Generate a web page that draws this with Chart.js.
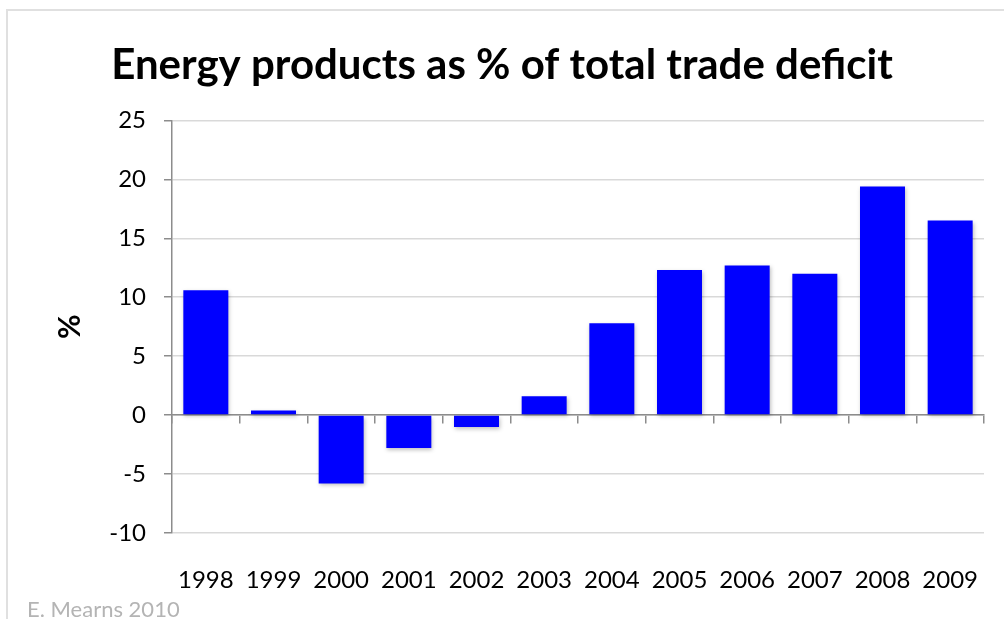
<!DOCTYPE html>
<html>
<head>
<meta charset="utf-8">
<script src="https://cdn.jsdelivr.net/npm/chart.js@4.4.0/dist/chart.umd.min.js"></script>
<style>
  html, body { margin: 0; padding: 0; background: #fff; }
  #wrap { position: relative; width: 1004px; height: 619px; overflow: hidden; }
  #frame { position: absolute; left: 6px; top: 9px; width: 1100px; height: 700px; border-left: 2px solid #e0e0e0; border-top: 2px solid #e0e0e0; }
  canvas { position: absolute; left: 0; top: 0; }
  #credit { position: absolute; left: 27px; top: 595px; font-family: Lato, "Open Sans", sans-serif; font-size: 22px; color: #b4b4b4; white-space: nowrap; }
</style>
</head>
<body>
<div id="wrap">
  <div id="frame"></div>
  <canvas id="c" width="1004" height="619"></canvas>
  <div id="credit">E. Mearns 2010</div>
</div>
<script>
const categories = ["1998","1999","2000","2001","2002","2003","2004","2005","2006","2007","2008","2009"];
const energyShare = [10.6, 0.4, -5.8, -2.8, -1.0, 1.6, 7.8, 12.3, 12.7, 12.0, 19.4, 16.5];
const yTicks = [-10, -5, 0, 5, 10, 15, 20, 25];
const chartTitle = "Energy products as % of total trade deficit";
const yTitle = "%";

const FONT = "Lato, 'Open Sans', sans-serif";

const shadowPlugin = {
  id: 'barShadow',
  beforeDatasetsDraw(chart) {
    const ctx = chart.ctx;
    ctx.save();
    ctx.shadowColor = 'rgba(0,0,0,0.25)';
    ctx.shadowBlur = 4;
    ctx.shadowOffsetX = 1;
    ctx.shadowOffsetY = 2;
  },
  afterDatasetsDraw(chart) {
    chart.ctx.restore();
  }
};

new Chart(document.getElementById('c'), {
  type: 'bar',
  data: {
    labels: categories,
    datasets: [{
      data: energyShare,
      backgroundColor: '#0000ff',
      borderWidth: 0,
      barPercentage: 0.665,
      categoryPercentage: 1.0,
      xAxisID: 'x'
    }]
  },
  options: {
    responsive: false,
    animation: false,
    devicePixelRatio: 1,
    layout: { padding: { left: 0, right: 0, top: 0, bottom: 0 } },
    plugins: {
      legend: { display: false },
      tooltip: { enabled: false },
      title: {
        display: true,
        text: chartTitle,
        color: '#000',
        font: { family: FONT, size: 42, weight: 'bold' },
        padding: { top: 40, bottom: 30 }
      }
    },
    scales: {
      x: {
        type: 'category',
        position: { y: 0 },
        offset: true,
        grid: { display: true, drawOnChartArea: false, drawTicks: true, tickLength: 8, color: '#8c8c8c', lineWidth: 1.5, offset: true },
        border: { display: true, color: '#8c8c8c', width: 1.5 },
        ticks: { display: false },
        afterFit(scale) { scale.paddingLeft = 0; scale.paddingRight = 20; }
      },
      xLabels: {
        type: 'category',
        position: 'bottom',
        labels: categories,
        offset: true,
        grid: { display: false, drawTicks: false },
        border: { display: false },
        ticks: { color: '#000', font: { family: FONT, size: 24 }, padding: 33, maxRotation: 0, autoSkip: false },
        afterFit(scale) { scale.height = 86; scale.paddingLeft = 0; scale.paddingRight = 20; }
      },
      y: {
        min: -10,
        max: 25,
        afterBuildTicks(scale) { scale.ticks = yTicks.map(v => ({ value: v })); },
        grid: { color: '#d9d9d9', lineWidth: 1.5, drawTicks: true, tickLength: 8, tickColor: '#8c8c8c' },
        border: { display: true, color: '#8c8c8c', width: 1.5 },
        ticks: { color: '#000', font: { family: FONT, size: 24 }, padding: 18 },
        title: { display: true, text: yTitle, color: '#000', font: { family: FONT, size: 30, weight: 'bold' }, padding: { top: 52, bottom: 0 } },
        afterFit(scale) { scale.width = 172; }
      }
    }
  },
  plugins: [shadowPlugin]
});
</script>
</body>
</html>
